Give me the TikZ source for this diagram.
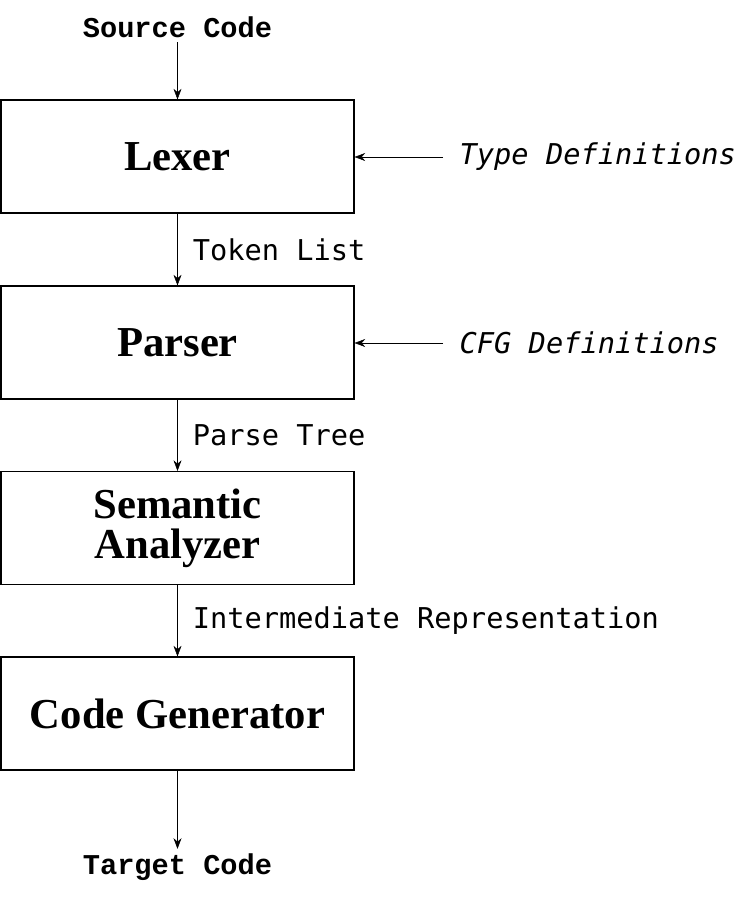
\documentclass[tikz,border=0pt]{standalone}
\usepackage{fontspec}
\setmainfont{Liberation Serif}
\newfontfamily\labelmono{DejaVu Sans Mono}
\newfontfamily\termmono{Liberation Mono}
\usetikzlibrary{arrows.meta,positioning}

\newlength\pxu
\setlength\pxu{0.75pt}
\tikzset{
    stagebox/.style={draw, thick, minimum width=353\pxu, minimum height=113\pxu,
        align=center, font=\fontsize{32}{30}\selectfont\bfseries, inner sep=0pt},
    flowlabel/.style={anchor=west, font=\labelmono\fontsize{21.5}{24}\selectfont},
    sidelabel/.style={anchor=west, font=\labelmono\itshape\fontsize{21.5}{24}\selectfont},
    termlabel/.style={font=\termmono\bfseries\fontsize{21.5}{24}\selectfont},
    flow/.style={-{Stealth[length=8pt, width=6pt]}}
}

\begin{document}
\begin{tikzpicture}[x=0.75pt, y=-0.75pt]
    \useasboundingbox (0,0) rectangle (756,903);

    \node[termlabel] (src) at (177.5,27) {Source Code};
    \node[stagebox] (lexer) at (177.5,156.5) {Lexer};
    \node[stagebox] (parser) at (177.5,342.5) {Parser};
    \node[stagebox] (sem) at (177.5,528) {Semantic\\Analyzer};
    \node[stagebox] (gen) at (177.5,713.5) {Code Generator};
    \node[termlabel] (tgt) at (177.5,867) {Target Code};

    \coordinate (typein) at (443,157);
    \coordinate (cfgin) at (443,343);
    \node[sidelabel] (types) at (455,157) {Type Definitions};
    \node[sidelabel] (cfg) at (455,343) {CFG Definitions};

    \draw[flow] (src) -- (lexer);
    \draw[flow] (lexer) -- node[flowlabel, xshift=8pt] {Token List} (parser);
    \draw[flow] (parser) -- node[flowlabel, xshift=8pt] {Parse Tree} (sem);
    \draw[flow] (sem) -- node[flowlabel, xshift=8pt] {Intermediate Representation} (gen);
    \draw[flow] (gen) -- (tgt);
    \draw[flow] (typein) -- (lexer.east |- typein);
    \draw[flow] (cfgin) -- (parser.east |- cfgin);
\end{tikzpicture}
\end{document}
